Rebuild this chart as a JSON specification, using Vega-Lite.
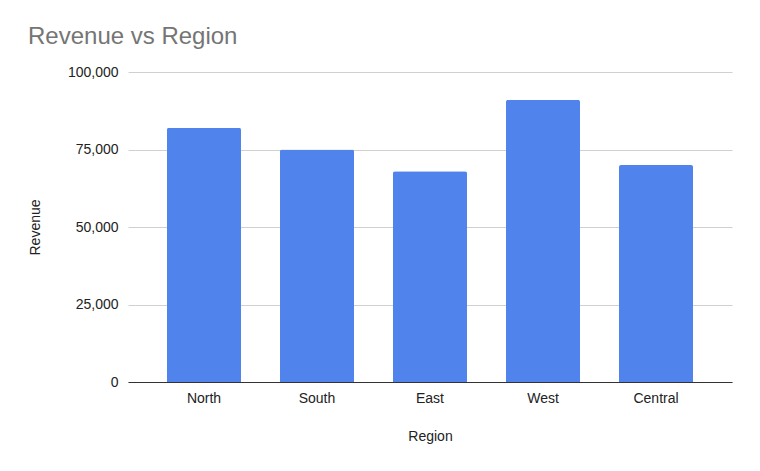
{
  "$schema": "https://vega.github.io/schema/vega-lite/v6.json",
  "autosize": "none",
  "width": 604,
  "height": 310,
  "padding": {"left": 128, "top": 72, "right": 28, "bottom": 89},
  "background": "white",
  "title": {
    "text": "Revenue vs Region",
    "anchor": "start",
    "frame": "group",
    "dx": -100,
    "offset": 16,
    "font": "Liberation Sans",
    "fontSize": 24,
    "fontWeight": "normal",
    "color": "#757575"
  },
  "data": {
    "values": [
      {"Region": "North", "Revenue": 82000},
      {"Region": "South", "Revenue": 75000},
      {"Region": "East", "Revenue": 68000},
      {"Region": "West", "Revenue": 91000},
      {"Region": "Central", "Revenue": 70000}
    ]
  },
  "mark": {"type": "bar", "color": "#5084ec", "cornerRadiusTopLeft": 2, "cornerRadiusTopRight": 2},
  "encoding": {
    "x": {
      "field": "Region",
      "type": "nominal",
      "sort": null,
      "scale": {"paddingInner": 0.345, "paddingOuter": 0.345},
      "axis": {
        "labelAngle": 0,
        "ticks": false,
        "domainColor": "#333333",
        "labelFont": "Liberation Sans",
        "labelFontSize": 14,
        "labelColor": "#222222",
        "labelPadding": 9,
        "titleFont": "Liberation Sans",
        "titleFontSize": 14,
        "titleFontWeight": "normal",
        "titleColor": "#222222",
        "titlePadding": 24
      }
    },
    "y": {
      "field": "Revenue",
      "type": "quantitative",
      "scale": {"domain": [0, 100000]},
      "axis": {
        "values": [0, 25000, 50000, 75000, 100000],
        "format": ",d",
        "ticks": false,
        "domain": false,
        "gridColor": "#d0d0d0",
        "labelFont": "Liberation Sans",
        "labelFontSize": 14,
        "labelColor": "#222222",
        "labelPadding": 10,
        "titleFont": "Liberation Sans",
        "titleFontSize": 14,
        "titleFontWeight": "normal",
        "titleColor": "#222222",
        "titlePadding": 25
      }
    }
  },
  "config": {"view": {"stroke": null}}
}
